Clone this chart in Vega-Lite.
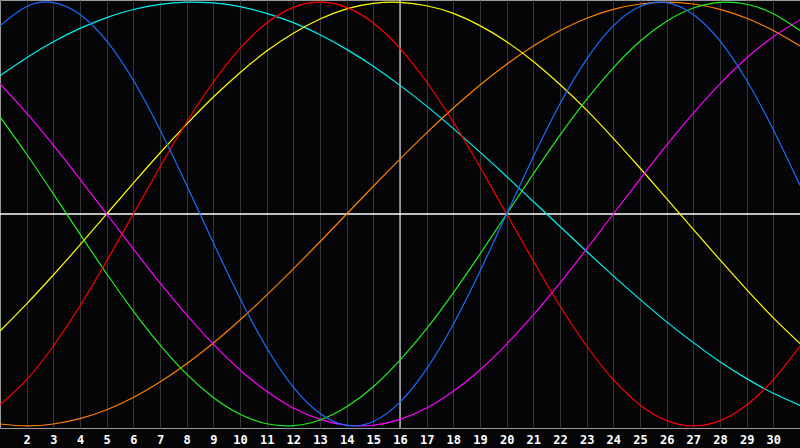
{
  "$schema": "https://vega.github.io/schema/vega-lite/v6.json",
  "width": 800,
  "height": 428,
  "padding": {"left": 0, "top": 0, "right": 0, "bottom": 20},
  "autosize": {"type": "none"},
  "background": "#050507",
  "config": {
    "view": {"stroke": "#9a9a9a", "strokeWidth": 1},
    "axisX": {
      "grid": true,
      "gridColor": "#353535",
      "gridWidth": 1,
      "domain": false,
      "ticks": false,
      "labelPadding": 6,
      "labelColor": "#ffffff",
      "labelFont": "DejaVu Sans Mono",
      "labelFontWeight": "bold",
      "labelFontSize": 12,
      "labelAngle": 0,
      "labelOverlap": false,
      "labelSeparation": 0,
      "labelFlush": false
    }
  },
  "layer": [
    {
      "data": {"values": [{}]},
      "mark": {"type": "rule", "color": "#ffffff", "strokeWidth": 1.3},
      "encoding": {"y": {"datum": 0, "type": "quantitative", "scale": {"domain": [-1.01, 1.01]}, "axis": null}}
    },
    {
      "data": {"values": [{}]},
      "mark": {"type": "rule", "color": "#ffffff", "strokeWidth": 1},
      "encoding": {
        "x": {
          "datum": 16,
          "type": "quantitative",
          "title": null,
          "scale": {"domain": [1, 31], "nice": false, "zero": false},
          "axis": {
            "values": [2, 3, 4, 5, 6, 7, 8, 9, 10, 11, 12, 13, 14, 15, 16, 17, 18, 19, 20, 21, 22, 23, 24, 25, 26, 27, 28, 29, 30],
            "labelOverlap": false
          }
        }
      }
    },
    {
      "data": {
        "values": [
          {"day": 1, "phys": 0.888, "emo": -0.901, "intel": 0.458, "intu": 0.614, "aes": -0.552, "awa": -0.991, "spi": 0.653},
          {"day": 2, "phys": 0.979, "emo": -0.782, "intel": 0.282, "intu": 0.476, "aes": -0.424, "awa": -1.0, "spi": 0.738},
          {"day": 3, "phys": 0.998, "emo": -0.623, "intel": 0.095, "intu": 0.325, "aes": -0.288, "awa": -0.991, "spi": 0.813},
          {"day": 4, "phys": 0.942, "emo": -0.434, "intel": -0.095, "intu": 0.165, "aes": -0.146, "awa": -0.966, "spi": 0.876},
          {"day": 5, "phys": 0.817, "emo": -0.222, "intel": -0.282, "intu": 0.0, "aes": 0.0, "awa": -0.924, "spi": 0.927},
          {"day": 6, "phys": 0.631, "emo": 0.0, "intel": -0.458, "intu": -0.165, "aes": 0.146, "awa": -0.866, "spi": 0.965},
          {"day": 7, "phys": 0.398, "emo": 0.222, "intel": -0.618, "intu": -0.325, "aes": 0.288, "awa": -0.793, "spi": 0.989},
          {"day": 8, "phys": 0.136, "emo": 0.434, "intel": -0.756, "intu": -0.476, "aes": 0.424, "awa": -0.707, "spi": 1.0},
          {"day": 9, "phys": -0.136, "emo": 0.623, "intel": -0.866, "intu": -0.614, "aes": 0.552, "awa": -0.609, "spi": 0.996},
          {"day": 10, "phys": -0.398, "emo": 0.782, "intel": -0.945, "intu": -0.736, "aes": 0.667, "awa": -0.5, "spi": 0.979},
          {"day": 11, "phys": -0.631, "emo": 0.901, "intel": -0.99, "intu": -0.837, "aes": 0.769, "awa": -0.383, "spi": 0.947},
          {"day": 12, "phys": -0.817, "emo": 0.975, "intel": -0.999, "intu": -0.916, "aes": 0.853, "awa": -0.259, "spi": 0.903},
          {"day": 13, "phys": -0.942, "emo": 1.0, "intel": -0.972, "intu": -0.969, "aes": 0.92, "awa": -0.131, "spi": 0.846},
          {"day": 14, "phys": -0.998, "emo": 0.975, "intel": -0.91, "intu": -0.997, "aes": 0.968, "awa": 0.0, "spi": 0.777},
          {"day": 15, "phys": -0.979, "emo": 0.901, "intel": -0.815, "intu": -0.997, "aes": 0.994, "awa": 0.131, "spi": 0.697},
          {"day": 16, "phys": -0.888, "emo": 0.782, "intel": -0.69, "intu": -0.969, "aes": 0.999, "awa": 0.259, "spi": 0.607},
          {"day": 17, "phys": -0.731, "emo": 0.623, "intel": -0.541, "intu": -0.916, "aes": 0.983, "awa": 0.383, "spi": 0.509},
          {"day": 18, "phys": -0.52, "emo": 0.434, "intel": -0.372, "intu": -0.837, "aes": 0.947, "awa": 0.5, "spi": 0.403},
          {"day": 19, "phys": -0.27, "emo": 0.222, "intel": -0.189, "intu": -0.736, "aes": 0.889, "awa": 0.609, "spi": 0.292},
          {"day": 20, "phys": 0.0, "emo": 0.0, "intel": 0.0, "intu": -0.614, "aes": 0.813, "awa": 0.707, "spi": 0.177},
          {"day": 21, "phys": 0.27, "emo": -0.222, "intel": 0.189, "intu": -0.476, "aes": 0.72, "awa": 0.793, "spi": 0.059},
          {"day": 22, "phys": 0.52, "emo": -0.434, "intel": 0.372, "intu": -0.325, "aes": 0.611, "awa": 0.866, "spi": -0.059},
          {"day": 23, "phys": 0.731, "emo": -0.623, "intel": 0.541, "intu": -0.165, "aes": 0.49, "awa": 0.924, "spi": -0.177},
          {"day": 24, "phys": 0.888, "emo": -0.782, "intel": 0.69, "intu": 0.0, "aes": 0.357, "awa": 0.966, "spi": -0.292},
          {"day": 25, "phys": 0.979, "emo": -0.901, "intel": 0.815, "intu": 0.165, "aes": 0.217, "awa": 0.991, "spi": -0.403},
          {"day": 26, "phys": 0.998, "emo": -0.975, "intel": 0.91, "intu": 0.325, "aes": 0.073, "awa": 1.0, "spi": -0.509},
          {"day": 27, "phys": 0.942, "emo": -1.0, "intel": 0.972, "intu": 0.476, "aes": -0.073, "awa": 0.991, "spi": -0.607},
          {"day": 28, "phys": 0.817, "emo": -0.975, "intel": 0.999, "intu": 0.614, "aes": -0.217, "awa": 0.966, "spi": -0.697},
          {"day": 29, "phys": 0.631, "emo": -0.901, "intel": 0.99, "intu": 0.736, "aes": -0.357, "awa": 0.924, "spi": -0.777},
          {"day": 30, "phys": 0.398, "emo": -0.782, "intel": 0.945, "intu": 0.837, "aes": -0.49, "awa": 0.866, "spi": -0.846},
          {"day": 31, "phys": 0.136, "emo": -0.623, "intel": 0.866, "intu": 0.916, "aes": -0.611, "awa": 0.793, "spi": -0.903}
        ]
      },
      "transform": [
        {"fold": ["spi", "awa", "aes", "intu", "intel", "emo", "phys"], "as": ["cycle", "value"]}
      ],
      "mark": {"type": "line", "interpolate": "natural", "strokeWidth": 1.2, "clip": true},
      "encoding": {
        "x": {
          "field": "day",
          "type": "quantitative",
          "title": null,
          "scale": {"domain": [1, 31], "nice": false, "zero": false},
          "axis": {
            "values": [2, 3, 4, 5, 6, 7, 8, 9, 10, 11, 12, 13, 14, 15, 16, 17, 18, 19, 20, 21, 22, 23, 24, 25, 26, 27, 28, 29, 30],
            "labelOverlap": false
          }
        },
        "y": {"field": "value", "type": "quantitative", "scale": {"domain": [-1.01, 1.01]}, "axis": null},
        "color": {
          "field": "cycle",
          "type": "nominal",
          "legend": null,
          "scale": {
            "domain": ["phys", "emo", "intel", "intu", "aes", "awa", "spi"],
            "range": ["#1a6cff", "#ff0000", "#22ee22", "#ff00ff", "#ffff00", "#ff8000", "#00f0f0"]
          }
        }
      }
    }
  ]
}
